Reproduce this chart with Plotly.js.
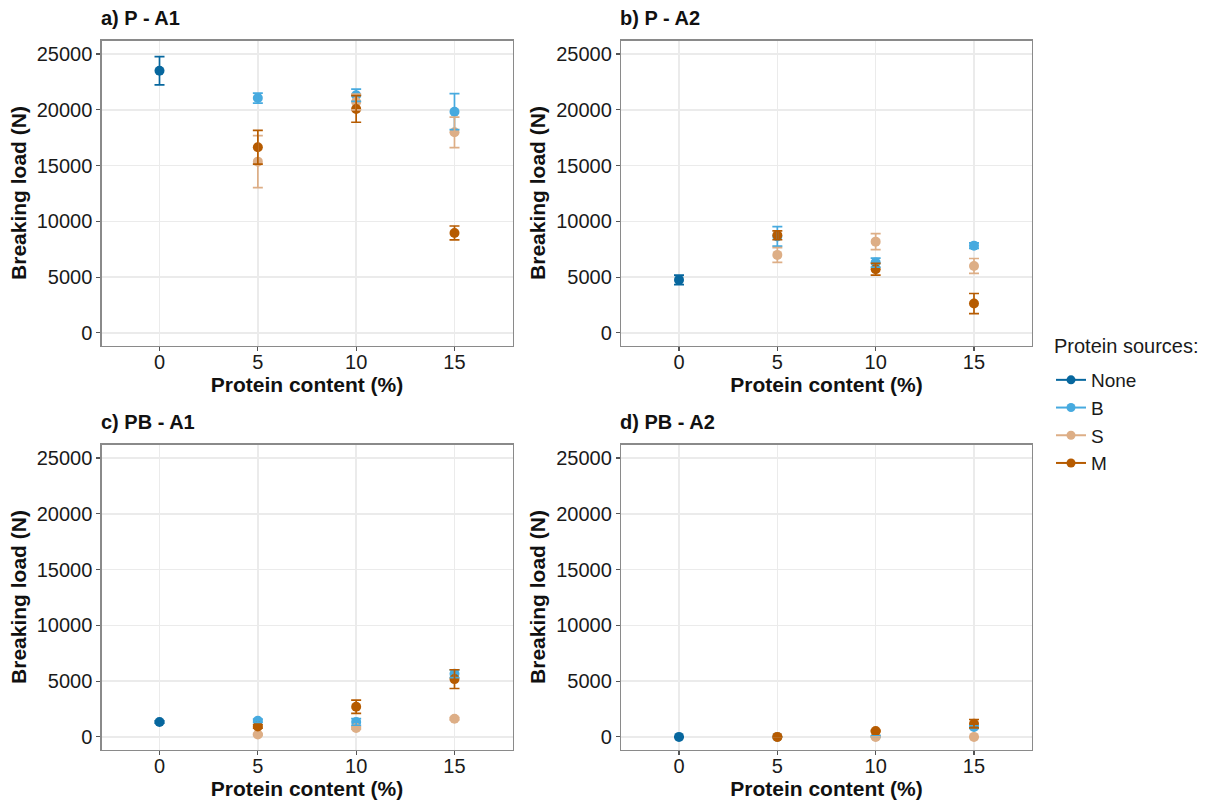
<!DOCTYPE html>
<html>
<head>
<meta charset="utf-8">
<script src="https://cdn.plot.ly/plotly-3.0.1.min.js"></script>
<style>
html,body{margin:0;padding:0;background:#fff;}
#chart{width:1210px;height:801px;}
</style>
</head>
<body>
<div id="chart"></div>
<script>
// ---- Data ----
const panelTitles = ["a) P - A1", "b) P - A2", "c) PB - A1", "d) PB - A2"];
const legendTitle = "Protein sources:";
const sources = ["None", "B", "S", "M"];
const noneX = [0];
const proteinX = [5, 10, 15];

// Panel a) P - A1
const a_None = [23500], a_None_err = [1270];
const a_B = [21050, 21300, 19830], a_B_err = [450, 550, 1610];
const a_S = [15350, 20700, 17980], a_S_err = [2330, 700, 1370];
const a_M = [16640, 20070, 8960], a_M_err = [1520, 1190, 620];

// Panel b) P - A2
const b_None = [4750], b_None_err = [420];
const b_B = [8650, 6300, 7820], b_B_err = [880, 400, 250];
const b_S = [6990, 8180, 6000], b_S_err = [660, 710, 670];
const b_M = [8750, 5700, 2630], b_M_err = [400, 530, 900];

// Panel c) PB - A1
const c_None = [1330], c_None_err = [100];
const c_B = [1450, 1330, 5660], c_B_err = [150, 300, 350];
const c_S = [220, 790, 1630], c_S_err = [80, 100, 100];
const c_M = [940, 2700, 5180], c_M_err = [150, 600, 840];

// Panel d) PB - A2
const d_None = [0], d_None_err = [0];
const d_B = [0, 50, 880], d_B_err = [0, 50, 120];
const d_S = [0, 0, 0], d_S_err = [0, 0, 0];
const d_M = [0, 520, 1180], d_M_err = [0, 60, 380];

const yTickVals = [0, 5000, 10000, 15000, 20000, 25000];
const yTickText = ["0", "5000", "10000", "15000", "20000", "25000"];
const xTickVals = [0, 5, 10, 15];

// ---- Styles ----
const colors = {None: "#07679E", B: "#47AADF", S: "#DDAE86", M: "#B65B00"};

const panels = [
  {None: [a_None, a_None_err], B: [a_B, a_B_err], S: [a_S, a_S_err], M: [a_M, a_M_err]},
  {None: [b_None, b_None_err], B: [b_B, b_B_err], S: [b_S, b_S_err], M: [b_M, b_M_err]},
  {None: [c_None, c_None_err], B: [c_B, c_B_err], S: [c_S, c_S_err], M: [c_M, c_M_err]},
  {None: [d_None, d_None_err], B: [d_B, d_B_err], S: [d_S, d_S_err], M: [d_M, d_M_err]}
];

const traces = [];
panels.forEach((p, i) => {
  const xa = i === 0 ? "x" : "x" + (i + 1);
  const ya = i === 0 ? "y" : "y" + (i + 1);
  sources.forEach(s => {
    traces.push({
      type: "scatter", mode: "markers", xaxis: xa, yaxis: ya,
      x: s === "None" ? noneX : proteinX, y: p[s][0],
      marker: {color: colors[s], size: 10},
      showlegend: false, name: s
    });
  });
  sources.forEach(s => {
    traces.push({
      type: "scatter", mode: "markers", xaxis: xa, yaxis: ya,
      x: s === "None" ? noneX : proteinX, y: p[s][0],
      marker: {color: colors[s], size: 10, opacity: 0},
      error_y: {type: "data", array: p[s][1], visible: true, color: colors[s], thickness: 1.7, width: 5},
      showlegend: false, hoverinfo: "skip", name: s
    });
  });
});
sources.forEach(s => {
  traces.push({
    type: "scatter", mode: "lines+markers", x: [null], y: [null],
    name: s, line: {color: colors[s], width: 2}, marker: {color: colors[s], size: 9},
    showlegend: true
  });
});

const W = 1210, H = 801;
const xd = [[101.5 / W, 512.5 / W], [621 / W, 1032 / W]];
const yd = [[1 - 345.5 / H, 1 - 40.5 / H], [1 - 749.5 / H, 1 - 444.5 / H]];

const FAM = "Liberation Sans, Arial, sans-serif";
const font = {family: FAM, size: 20, color: "#1a1a1a"};

function xAxis(col, anchor) {
  return {
    domain: xd[col], anchor: anchor, range: [-2.95, 17.95],
    tickvals: xTickVals, ticks: "outside", ticklen: 4, tickwidth: 1.2, tickcolor: "#555",
    ticklabelstandoff: -6,
    showgrid: true, gridcolor: "#EBEBEB", gridwidth: 1.5, zeroline: false,
    showline: true, mirror: true, linecolor: "#8a8a8a", linewidth: 1.2,
    tickfont: {family: FAM, size: 20, color: "#1a1a1a"},
    title: {text: "Protein content (%)", standoff: 0, font: {family: FAM, size: 21, color: "#111", weight: "bold"}},
    automargin: false, fixedrange: true
  };
}
function yAxis(row, anchor) {
  return {
    domain: yd[row], anchor: anchor, range: [-1130, 26210],
    tickvals: yTickVals, ticktext: yTickText, ticks: "outside", ticklen: 4, tickwidth: 1.2, tickcolor: "#555",
    showgrid: true, gridcolor: "#EBEBEB", gridwidth: 1.5, zeroline: false,
    showline: true, mirror: true, linecolor: "#8a8a8a", linewidth: 1.2,
    tickfont: {family: FAM, size: 20, color: "#1a1a1a"},
    title: {text: "Breaking load (N)", standoff: 4, font: {family: FAM, size: 21, color: "#111", weight: "bold"}},
    automargin: false, fixedrange: true
  };
}

const annotations = panelTitles.map((t, i) => ({
  text: "<b>" + t + "</b>", xref: "paper", yref: "paper",
  x: (i % 2 === 0 ? 99 : 618) / W, y: 1 - (i < 2 ? 18 : 422) / H,
  xanchor: "left", yanchor: "middle", showarrow: false,
  font: {family: FAM, size: 20, color: "#111"}
}));
annotations.push({
  text: legendTitle, xref: "paper", yref: "paper",
  x: 1052 / W, y: 1 - 346 / H, xanchor: "left", yanchor: "middle", showarrow: false,
  font: {family: FAM, size: 20, color: "#1a1a1a"}
});

const layout = {
  width: W, height: H,
  margin: {l: 0, r: 0, t: 0, b: 0},
  paper_bgcolor: "#fff", plot_bgcolor: "#fff",
  font: font,
  showlegend: true,
  legend: {
    x: 1051 / W, y: 1 - 361 / H, xanchor: "left", yanchor: "top",
    font: {family: FAM, size: 19, color: "#1a1a1a"},
    bgcolor: "rgba(0,0,0,0)", borderwidth: 0, itemwidth: 30
  },
  xaxis: xAxis(0, "y"), yaxis: yAxis(0, "x"),
  xaxis2: xAxis(1, "y2"), yaxis2: yAxis(0, "x2"),
  xaxis3: xAxis(0, "y3"), yaxis3: yAxis(1, "x3"),
  xaxis4: xAxis(1, "y4"), yaxis4: yAxis(1, "x4"),
  annotations: annotations
};

Plotly.newPlot("chart", traces, layout, {displayModeBar: false, staticPlot: true});
</script>
</body>
</html>
